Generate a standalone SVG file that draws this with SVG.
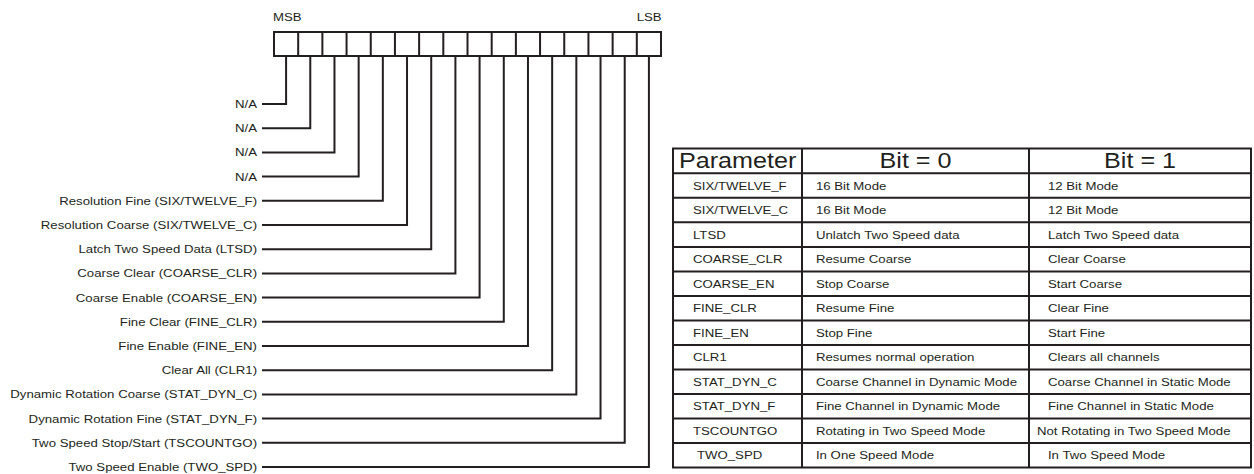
<svg xmlns="http://www.w3.org/2000/svg" width="1254" height="474" viewBox="0 0 1254 474">
<style>
.t{font-family:"Liberation Sans",Arial,Helvetica,sans-serif;font-size:11.3px;fill:#231f20}
.h{font-family:"Liberation Sans",Arial,Helvetica,sans-serif;font-size:21.5px;fill:#231f20}
.e{text-anchor:end}
.m{text-anchor:middle}
.ln{fill:none;stroke:#231f20;stroke-width:2}
.bx{fill:#fff;stroke:#231f20;stroke-width:2}
</style>
<rect width="1254" height="474" fill="#fff"/>
<g id="register">
<rect class="bx" x="274" y="32" width="387" height="24"/>
<path class="ln" d="M298.19,32V56M322.38,32V56M346.56,32V56M370.75,32V56M394.94,32V56M419.13,32V56M443.31,32V56M467.5,32V56M491.69,32V56M515.88,32V56M540.06,32V56M564.25,32V56M588.44,32V56M612.63,32V56M636.81,32V56"/>
<g transform="scale(1.17 1)">
<text class="t" x="233.3" y="20.7">MSB</text>
<text class="t e" x="565.5" y="20.7">LSB</text>
</g>
</g>
<g id="connectors">
<path class="ln" d="M262,104H286.09V56"/>
<path class="ln" d="M262,128.2H310.28V56"/>
<path class="ln" d="M262,152.4H334.47V56"/>
<path class="ln" d="M262,176.6H358.66V56"/>
<path class="ln" d="M262,200.8H382.84V56"/>
<path class="ln" d="M262,225H407.03V56"/>
<path class="ln" d="M262,249.2H431.22V56"/>
<path class="ln" d="M262,273.4H455.41V56"/>
<path class="ln" d="M262,297.6H479.59V56"/>
<path class="ln" d="M262,321.8H503.78V56"/>
<path class="ln" d="M262,346H527.97V56"/>
<path class="ln" d="M262,370.2H552.16V56"/>
<path class="ln" d="M262,394.4H576.34V56"/>
<path class="ln" d="M262,418.6H600.53V56"/>
<path class="ln" d="M262,442.8H624.72V56"/>
<path class="ln" d="M262,467H648.91V56"/>
</g>
<g transform="scale(1.17 1)">
<g id="bit15"><text class="t e" x="219.7" y="108">N/A</text></g>
<g id="bit14"><text class="t e" x="219.7" y="132.2">N/A</text></g>
<g id="bit13"><text class="t e" x="219.7" y="156.4">N/A</text></g>
<g id="bit12"><text class="t e" x="219.7" y="180.6">N/A</text></g>
<g id="bit11"><text class="t e" x="219.7" y="204.8">Resolution Fine (SIX/TWELVE_F)</text></g>
<g id="bit10"><text class="t e" x="219.7" y="229">Resolution Coarse (SIX/TWELVE_C)</text></g>
<g id="bit9"><text class="t e" x="219.7" y="253.2">Latch Two Speed Data (LTSD)</text></g>
<g id="bit8"><text class="t e" x="219.7" y="277.4">Coarse Clear (COARSE_CLR)</text></g>
<g id="bit7"><text class="t e" x="219.7" y="301.6">Coarse Enable (COARSE_EN)</text></g>
<g id="bit6"><text class="t e" x="219.7" y="325.8">Fine Clear (FINE_CLR)</text></g>
<g id="bit5"><text class="t e" x="219.7" y="350">Fine Enable (FINE_EN)</text></g>
<g id="bit4"><text class="t e" x="219.7" y="374.2">Clear All (CLR1)</text></g>
<g id="bit3"><text class="t e" x="219.7" y="398.4">Dynamic Rotation Coarse (STAT_DYN_C)</text></g>
<g id="bit2"><text class="t e" x="219.7" y="422.6">Dynamic Rotation Fine (STAT_DYN_F)</text></g>
<g id="bit1"><text class="t e" x="219.7" y="446.8">Two Speed Stop/Start (TSCOUNTGO)</text></g>
<g id="bit0"><text class="t e" x="219.7" y="471">Two Speed Enable (TWO_SPD)</text></g>
</g>
<g id="table">
<rect class="ln" x="673" y="148.5" width="578" height="319"/>
<path class="ln" d="M802,148.5V467.5M1029,148.5V467.5"/>
<path class="ln" d="M673,173.3H1251M673,197.8H1251M673,222.3H1251M673,246.9H1251M673,271.4H1251M673,295.9H1251M673,320.4H1251M673,344.9H1251M673,369.5H1251M673,394H1251M673,418.5H1251M673,443H1251"/>
<g transform="scale(1.17 1)">
<text class="h" x="580.3" y="168.5">Parameter</text>
<text class="h m" x="782.5" y="168.5">Bit = 0</text>
<text class="h m" x="974.4" y="168.5">Bit = 1</text>
<text class="t" x="592.3" y="189.6">SIX/TWELVE_F</text>
<text class="t" x="697.4" y="189.6">16 Bit Mode</text>
<text class="t" x="895.7" y="189.6">12 Bit Mode</text>
<text class="t" x="592.3" y="214.1">SIX/TWELVE_C</text>
<text class="t" x="697.4" y="214.1">16 Bit Mode</text>
<text class="t" x="895.7" y="214.1">12 Bit Mode</text>
<text class="t" x="592.3" y="238.6">LTSD</text>
<text class="t" x="697.4" y="238.6">Unlatch Two Speed data</text>
<text class="t" x="895.7" y="238.6">Latch Two Speed data</text>
<text class="t" x="592.3" y="263.1">COARSE_CLR</text>
<text class="t" x="697.4" y="263.1">Resume Coarse</text>
<text class="t" x="895.7" y="263.1">Clear Coarse</text>
<text class="t" x="592.3" y="287.6">COARSE_EN</text>
<text class="t" x="697.4" y="287.6">Stop Coarse</text>
<text class="t" x="895.7" y="287.6">Start Coarse</text>
<text class="t" x="592.3" y="312.2">FINE_CLR</text>
<text class="t" x="697.4" y="312.2">Resume Fine</text>
<text class="t" x="895.7" y="312.2">Clear Fine</text>
<text class="t" x="592.3" y="336.7">FINE_EN</text>
<text class="t" x="697.4" y="336.7">Stop Fine</text>
<text class="t" x="895.7" y="336.7">Start Fine</text>
<text class="t" x="592.3" y="361.2">CLR1</text>
<text class="t" x="697.4" y="361.2">Resumes normal operation</text>
<text class="t" x="895.7" y="361.2">Clears all channels</text>
<text class="t" x="592.3" y="385.7">STAT_DYN_C</text>
<text class="t" x="697.4" y="385.7">Coarse Channel in Dynamic Mode</text>
<text class="t" x="895.7" y="385.7">Coarse Channel in Static Mode</text>
<text class="t" x="592.3" y="410.2">STAT_DYN_F</text>
<text class="t" x="697.4" y="410.2">Fine Channel in Dynamic Mode</text>
<text class="t" x="895.7" y="410.2">Fine Channel in Static Mode</text>
<text class="t" x="592.3" y="434.8">TSCOUNTGO</text>
<text class="t" x="697.4" y="434.8">Rotating in Two Speed Mode</text>
<text class="t" x="886.3" y="434.8">Not Rotating in Two Speed Mode</text>
<text class="t" x="595.7" y="459.3">TWO_SPD</text>
<text class="t" x="697.4" y="459.3">In One Speed Mode</text>
<text class="t" x="895.7" y="459.3">In Two Speed Mode</text>
</g>
</g>
</svg>
